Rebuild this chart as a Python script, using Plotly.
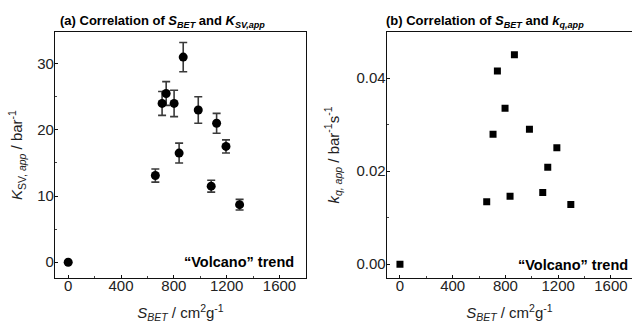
import plotly.graph_objects as go

# Panel (a): S_BET vs K_SV,app with error bars
s_bet_a = [0, 660, 711, 742, 802, 840, 871, 985, 1083, 1124, 1195, 1298]
ksv = [0, 13.1, 24.0, 25.5, 24.0, 16.5, 31.0, 23.0, 11.5, 21.0, 17.5, 8.7]
ksv_err = [0, 1.0, 1.8, 1.8, 2.0, 1.5, 2.2, 2.0, 0.9, 1.5, 1.0, 0.8]

# Panel (b): S_BET vs k_q,app
s_bet_b = [0, 658, 706, 739, 797, 835, 868, 982, 1083, 1121, 1190, 1296]
kq = [0, 0.0134, 0.0279, 0.0415, 0.0335, 0.0146, 0.0450, 0.0290, 0.0154, 0.0208, 0.0250, 0.0128]

x_ticks = [0, 400, 800, 1200, 1600]
ya_ticks = [0, 10, 20, 30]
yb_ticks = [0.0, 0.02, 0.04]
yb_labels = ["0.00", "0.02", "0.04"]

FONT = "Liberation Sans, Arial, sans-serif"
TXT = "#222"


def axis(minor_dtick, **kw):
    d = dict(showgrid=False, zeroline=False, linecolor="#111", linewidth=1.3,
             ticks="inside", ticklen=3, tickwidth=1, tickcolor="#111",
             tickfont=dict(family=FONT, size=15, color=TXT), automargin=False,
             minor=dict(ticks="inside", ticklen=2, tickwidth=1, tickcolor="#444",
                        dtick=minor_dtick, tick0=0))
    d.update(kw)
    return d


fig = go.Figure()
fig.add_trace(go.Scatter(
    x=s_bet_a, y=ksv, mode="markers",
    marker=dict(symbol="circle", size=9, color="black"),
    error_y=dict(type="data", array=ksv_err, visible=True, color="#3a3a3a", thickness=1.6, width=4),
    xaxis="x", yaxis="y", showlegend=False))
fig.add_trace(go.Scatter(
    x=s_bet_b, y=kq, mode="markers",
    marker=dict(symbol="square", size=7, color="black"),
    xaxis="x2", yaxis="y2", showlegend=False))

xtitle = "<i>S<sub>BET</sub></i> / cm<sup>2</sup>g<sup>-1</sup>"

fig.update_layout(
    width=632, height=323, margin=dict(l=0, r=0, t=0, b=0),
    plot_bgcolor="white", paper_bgcolor="white",
    xaxis=axis(200, domain=[0.087, 0.484], range=[-100, 1800], tickvals=x_ticks,
               mirror=True, anchor="y", ticklabelstandoff=-6,
               title=dict(text=xtitle, font=dict(family=FONT, size=15, color=TXT), standoff=20)),
    yaxis=axis(5, domain=[0.139, 0.901], range=[-2.4, 34.8], tickvals=ya_ticks,
               mirror=True, anchor="x", ticklabelstandoff=-3,
               title=dict(text="<i>K</i><sub>SV, <i>app</i></sub> / bar<sup>-1</sup>",
                          font=dict(family=FONT, size=15, color=TXT), standoff=10)),
    xaxis2=axis(200, domain=[0.612, 1.0], range=[-100, 1760], tickvals=x_ticks,
                mirror=True, anchor="y2", ticklabelstandoff=-6,
                title=dict(text=xtitle, font=dict(family=FONT, size=15, color=TXT), standoff=20)),
    yaxis2=axis(0.01, domain=[0.139, 0.901], range=[-0.003, 0.0499], tickvals=yb_ticks,
                ticktext=yb_labels, anchor="x2", mirror=False, ticklabelstandoff=-3,
                title=dict(text="<i>k</i><sub><i>q, app</i></sub> / bar<sup>-1</sup>s<sup>-1</sup>",
                           font=dict(family=FONT, size=15, color=TXT), standoff=13)),
)

fig.add_annotation(text="<b>(a) Correlation of <i>S<sub>BET</sub></i> and <i>K<sub>SV,app</sub></i></b>",
                   xref="paper", yref="paper", x=0.257, y=0.932, xanchor="center", yanchor="middle",
                   showarrow=False, font=dict(family=FONT, size=13, color="black"))
fig.add_annotation(text="<b>(b) Correlation of <i>S<sub>BET</sub></i> and <i>k<sub>q,app</sub></i></b>",
                   xref="paper", yref="paper", x=0.768, y=0.932, xanchor="center", yanchor="middle",
                   showarrow=False, font=dict(family=FONT, size=13, color="black"))
fig.add_annotation(text="<b>\u201cVolcano\u201d trend</b>", xref="x domain", yref="y domain",
                   x=0.96, y=0.065, xanchor="right", yanchor="middle", showarrow=False,
                   font=dict(family=FONT, size=14.5, color="black"))
fig.add_annotation(text="<b>\u201cVolcano\u201d trend</b>", xref="x2 domain", yref="y2 domain",
                   x=0.99, y=0.055, xanchor="right", yanchor="middle", showarrow=False,
                   font=dict(family=FONT, size=14.5, color="black"))

fig.write_html("out.html")
